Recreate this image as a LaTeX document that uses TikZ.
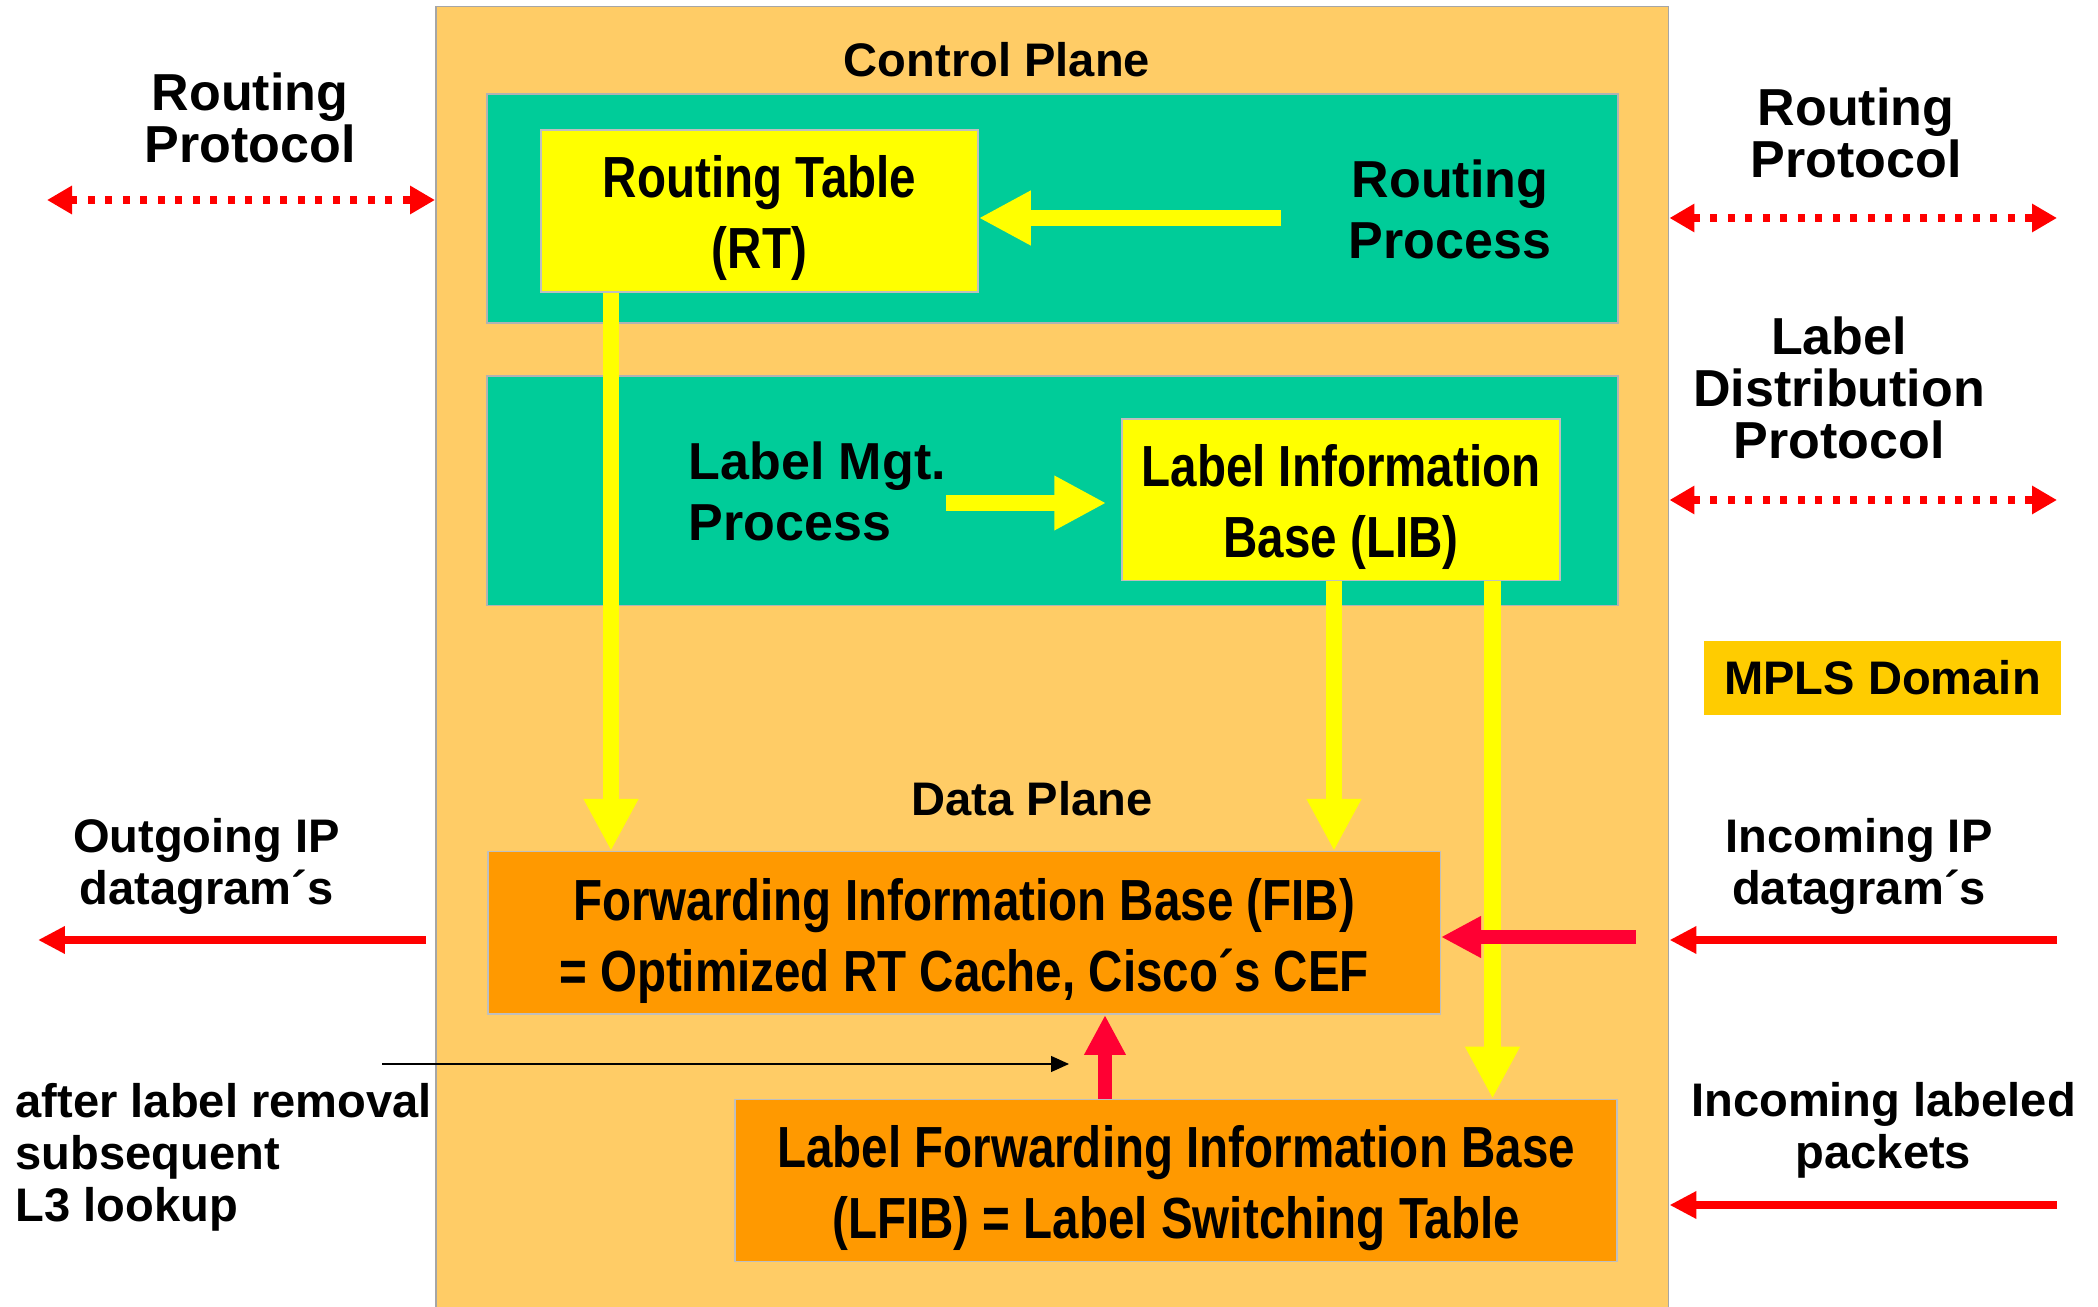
\documentclass[tikz,border=0pt]{standalone}
\usepackage{fontspec}
\setmainfont{Liberation Sans}
\newfontfamily\narrowfont[FakeStretch=0.82]{Liberation Sans}
\usetikzlibrary{arrows.meta}
\definecolor{planeorange}{HTML}{FFCC66}
\definecolor{procgreen}{HTML}{00CC99}
\definecolor{tableyellow}{HTML}{FFFF00}
\definecolor{fwdorange}{HTML}{FF9900}
\definecolor{mplsgold}{HTML}{FFCC00}
\definecolor{extred}{HTML}{FF0000}
\definecolor{intred}{HTML}{FF0033}
\tikzset{
  plane/.style={fill=planeorange, draw=black!35, line width=0.15mm},
  procbox/.style={fill=procgreen, draw=black!30, line width=0.15mm},
  tablebox/.style={fill=tableyellow, draw=black!25, line width=0.15mm},
  fwdbox/.style={tablebox, fill=fwdorange},
  tabletext/.style={inner sep=0pt, align=center, font=\narrowfont\bfseries\fontsize{16.5}{20.2}\selectfont},
  biglabel/.style={inner sep=0pt, align=center, font=\bfseries\fontsize{14.8}{14.9}\selectfont},
  proclabel/.style={inner sep=0pt, font=\bfseries\fontsize{14.8}{17.4}\selectfont},
  smalllabel/.style={inner sep=0pt, align=center, font=\bfseries\fontsize{13.4}{14.8}\selectfont},
  yarrow/.style={draw=tableyellow, line width=1.65mm, -{Triangle[length=5.2mm,width=5.1mm]}},
  iarrow/.style={draw=intred, line width=1.4mm, -{Triangle[length=4mm,width=3.9mm]}},
  rarrow/.style={draw=extred, line width=0.85mm, -{Triangle[length=2.7mm,width=2.6mm]}},
  dotarrow/.style={draw=extred, line width=0.8mm, dash pattern=on 0.7mm off 1.05mm,
    {Triangle[length=2.5mm,width=2.7mm]}-{Triangle[length=2.5mm,width=2.7mm]}}
}
\begin{document}
\begin{tikzpicture}[x=0.1mm, y=-0.1mm]
  \useasboundingbox (0,0) rectangle (2098,1307);
  % router: control plane above, data plane below
  \node[plane, anchor=north west, minimum width=123.3mm, minimum height=131mm] (plane) at (435,6) {};
  \node[smalllabel] (ctrl) at (997,60) {Control Plane};
  \node[procbox, minimum width=113.1mm, minimum height=22.9mm] (rtarea) at (1052.5,208.5) {};
  \node[procbox, minimum width=113.1mm, minimum height=22.95mm] (lbarea) at (1052.5,491) {};
  \node[tablebox, minimum width=43.7mm, minimum height=16.2mm] (rt) at (759.5,211) {};
  \node[tabletext] (rtText) at ([yshift=-0.7mm]rt) {Routing Table\\(RT)};
  \node[proclabel, align=center] (rproc) at (1450,209.5) {Routing\\Process};
  \node[proclabel, align=left, anchor=west] (lproc) at (688,491) {Label Mgt.\\Process};
  \node[tablebox, minimum width=43.8mm, minimum height=16.15mm] (lib) at (1341,500) {};
  \node[tabletext] (libText) at ([yshift=-0.7mm]lib) {Label Information\\Base (LIB)};
  \node[smalllabel] (data) at (1032,798.5) {Data Plane};
  \node[fwdbox, minimum width=95.25mm, minimum height=16.25mm] (fib) at (964,933) {};
  \node[tabletext] (fibText) at ([yshift=-0.85mm]fib) {Forwarding Information Base (FIB)\\= Optimized RT Cache, Cisco´s CEF};
  \node[fwdbox, minimum width=88.2mm, minimum height=16.2mm] (lfib) at (1176,1180.5) {};
  \node[tabletext] (lfibText) at ([yshift=-0.75mm]lfib) {Label Forwarding Information Base\\(LFIB) = Label Switching Table};

  % outside texts
  \node[biglabel] (rpl) at (250,118) {Routing\\Protocol};
  \node[biglabel] (rpr) at (1856,133) {Routing\\Protocol};
  \node[biglabel] (ldp) at (1839,388) {Label\\Distribution\\Protocol};
  \node[smalllabel, fill=mplsgold, minimum width=35.7mm, minimum height=7.45mm] (mpls) at (1882.5,678) {MPLS Domain};
  \node[smalllabel] (outip) at (206.5,866) {Outgoing IP\\datagram´s};
  \node[smalllabel] (inip) at (1859,866) {Incoming IP\\datagram´s};
  \node[smalllabel] (inlab) at (1883.5,1130) {Incoming labeled\\packets};
  \node[smalllabel, align=left, anchor=west] (l3) at (15,1157) {after label removal\\subsequent\\L3 lookup};

  % yellow arrows
  \coordinate (rpTail) at (1281,218);
  \draw[yarrow] (rpTail) -- (rpTail -| rt.east);
  \coordinate (mgtTail) at (946,503);
  \coordinate (libIn) at ([xshift=-1.5mm]lib.west);
  \draw[yarrow] (mgtTail) -- (mgtTail -| libIn);
  \foreach \src/\dx/\dst in {rt/-14.85/fib, lib/-0.7/fib, lib/15.15/lfib}{
    \draw[yarrow] ([xshift=\dx mm]\src.south) coordinate (d) -- (d |- \dst.north);
  }

  % red arrows inside
  \coordinate (fibTail) at (1636,937);
  \draw[iarrow] (fibTail) -- (fibTail -| fib.east);
  \draw[iarrow] ([xshift=-7.1mm]lfib.north) coordinate (u) -- (u |- fib.south);
  \coordinate (l3a) at (382,1064);
  \coordinate (l3b) at (1069,1064);
  \draw[line width=0.12mm, -{Triangle[length=1.8mm,width=1.6mm]}] (l3a) -- (l3b);

  % protocol exchange with neighbours
  \coordinate (rpLft) at (47,200);
  \draw[dotarrow] (rpLft) -- (rpLft -| plane.west);
  \foreach \y in {218,500}{
    \coordinate (r) at (2057,\y);
    \draw[dotarrow] (r -| plane.east) -- (r);
  }
  \coordinate (pw) at ([xshift=-0.9mm]plane.west);
  \coordinate (outTip) at (38,940);
  \draw[rarrow] (outTip -| pw) -- (outTip);
  \foreach \y in {940,1205}{
    \coordinate (s) at (2057,\y);
    \draw[rarrow] (s) -- (s -| plane.east);
  }
\end{tikzpicture}
\end{document}
